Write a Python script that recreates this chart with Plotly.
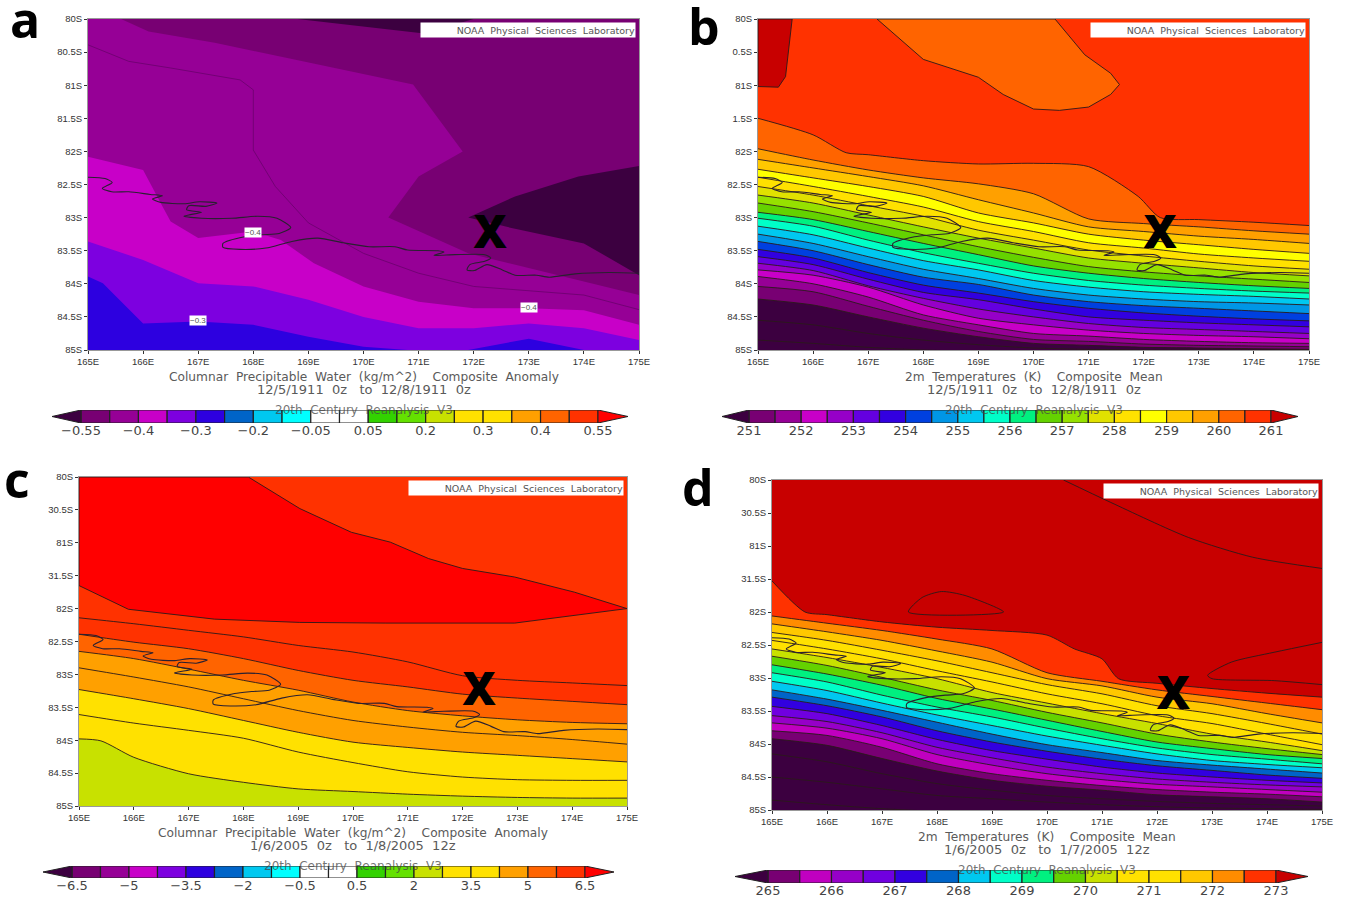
import plotly.graph_objects as go

W, H = 1346, 898
LON = [165, 166, 167, 168, 169, 170, 171, 172, 173, 174, 175]
LON_TICKS = [165, 166, 167, 168, 169, 170, 171, 172, 173, 174, 175]
LON_LABELS = ["165E", "166E", "167E", "168E", "169E", "170E", "171E", "172E", "173E", "174E", "175E"]
LAT_TICKS = [80, 80.5, 81, 81.5, 82, 82.5, 83, 83.5, 84, 84.5, 85]
LAT_LABELS_A = ["80S", "80.5S", "81S", "81.5S", "82S", "82.5S", "83S", "83.5S", "84S", "84.5S", "85S"]
LAT_LABELS_B = ["80S", "0.5S", "81S", "1.5S", "82S", "82.5S", "83S", "83.5S", "84S", "84.5S", "85S"]
LAT_LABELS_C = ["80S", "30.5S", "81S", "31.5S", "82S", "82.5S", "83S", "83.5S", "84S", "84.5S", "85S"]

COAST_LON = [165.00, 165.31, 165.44, 165.26, 165.43, 165.74, 166.13, 166.35, 166.17, 166.32, 166.75, 167.02, 167.34, 167.14, 166.83, 166.79, 167.06, 166.83, 166.74, 167.06, 167.61, 168.08, 168.43, 168.68, 168.47, 168.15, 167.84, 167.45, 167.45, 167.76, 168.23, 168.70, 169.17, 169.63, 170.10, 170.57, 170.80, 171.35, 171.46, 171.28, 171.66, 172.20, 172.31, 172.20, 171.93, 171.88, 172.01, 172.24, 172.52, 172.75, 173.14, 173.37, 173.84, 174.46, 175.00]
COAST_LAT = [82.39, 82.41, 82.47, 82.56, 82.61, 82.61, 82.65, 82.67, 82.72, 82.77, 82.79, 82.76, 82.78, 82.83, 82.82, 82.88, 82.92, 82.96, 82.98, 83.01, 83.01, 82.98, 83.01, 83.15, 83.24, 83.26, 83.29, 83.39, 83.45, 83.48, 83.46, 83.36, 83.31, 83.38, 83.44, 83.44, 83.49, 83.50, 83.52, 83.57, 83.56, 83.56, 83.61, 83.66, 83.71, 83.79, 83.80, 83.71, 83.79, 83.87, 83.87, 83.90, 83.85, 83.83, 83.84]
X_LON, X_LAT = 172.30, 83.29

# Panel a
A_BASE = "#2d00e0"
A_C1_LON = [165, 165.27, 166, 167, 168, 169, 170, 170.8, 171.9, 173, 174, 175]
A_C1_LAT = [83.89, 83.99, 84.60, 84.57, 84.62, 84.80, 84.95, 85.0, 85.0, 84.83, 85.0, 85.0]
A_C2_LAT = [83.36, 83.64, 83.99, 84.04, 84.24, 84.50, 84.67, 84.67, 84.60, 84.67, 84.85]
A_C3_LON = [165, 166, 166.35, 166.5, 167, 168, 168.5, 169.1, 170, 171, 172, 173, 174, 175]
A_C3_LAT = [82.08, 82.28, 82.83, 83.06, 83.31, 83.21, 83.34, 83.69, 84.04, 84.27, 84.37, 84.37, 84.40, 84.62]
A_P4_LON = [165.6, 166.1, 167.3, 170.9, 171.8, 171, 170.45, 171.9, 172.7, 174.15, 175, 175, 165.6]
A_P4_LAT = [80, 80.19, 80.36, 80.99, 82.0, 82.38, 83.0, 83.54, 83.70, 84.0, 84.17, 80, 80]
A_P5_LON = [171.9, 172.75, 173.9, 175, 175, 174, 172.6, 171.9]
A_P5_LAT = [83.0, 82.68, 82.38, 82.22, 83.87, 83.39, 83.14, 83.0]
A_P6_LON = [168.8, 171.1, 172, 168.8]
A_P6_LAT = [80, 80.22, 80, 80]
A_THIN_LON = [165, 165.74, 166.5, 167.76, 168, 168, 168.4, 169, 170, 171, 172, 174, 175]
A_THIN_LAT = [80.39, 80.64, 80.74, 80.92, 81.07, 81.98, 82.53, 83.08, 83.54, 83.84, 84.04, 84.17, 84.39]

# Panel b
B_BASE = "#3c0040"
B_COLORS = ["#780073", "#960096", "#c800c8", "#9600c8", "#6400e0", "#3200e0", "#0040e0", "#0096e6", "#00c8f0", "#00ffc8", "#00f080", "#64d200", "#96e100", "#e1e100", "#ffe100", "#ffff00", "#ffc800", "#ffa000", "#ff6400"]
B_LATS = [
    [84.23, 84.32, 84.50, 84.67, 84.80, 84.90, 84.93, 84.96, 84.97, 84.98, 84.99],
    [84.04, 84.12, 84.34, 84.55, 84.72, 84.84, 84.87, 84.91, 84.93, 84.94, 84.95],
    [83.89, 84.00, 84.20, 84.47, 84.62, 84.75, 84.79, 84.84, 84.87, 84.89, 84.90],
    [83.79, 83.87, 84.05, 84.32, 84.52, 84.62, 84.70, 84.75, 84.78, 84.80, 84.83],
    [83.69, 83.80, 84.03, 84.22, 84.38, 84.50, 84.60, 84.66, 84.69, 84.72, 84.75],
    [83.59, 83.71, 83.93, 84.13, 84.24, 84.38, 84.50, 84.55, 84.59, 84.62, 84.65],
    [83.48, 83.61, 83.83, 84.02, 84.14, 84.27, 84.37, 84.44, 84.49, 84.53, 84.56],
    [83.36, 83.50, 83.71, 83.90, 84.01, 84.17, 84.27, 84.33, 84.37, 84.41, 84.45],
    [83.25, 83.39, 83.59, 83.78, 83.92, 84.07, 84.17, 84.23, 84.27, 84.29, 84.32],
    [83.13, 83.26, 83.46, 83.65, 83.79, 83.95, 84.05, 84.12, 84.16, 84.19, 84.23],
    [83.01, 83.13, 83.34, 83.53, 83.69, 83.84, 83.95, 84.02, 84.07, 84.11, 84.14],
    [82.92, 83.03, 83.21, 83.39, 83.56, 83.73, 83.84, 83.92, 83.98, 84.03, 84.07],
    [82.78, 82.91, 83.08, 83.26, 83.44, 83.60, 83.74, 83.82, 83.88, 83.93, 83.98],
    [82.66, 82.78, 82.96, 83.14, 83.31, 83.46, 83.61, 83.69, 83.76, 83.83, 83.88],
    [82.53, 82.66, 82.82, 82.98, 83.19, 83.34, 83.49, 83.58, 83.66, 83.73, 83.78],
    [82.39, 82.53, 82.68, 82.84, 83.06, 83.21, 83.38, 83.46, 83.55, 83.61, 83.66],
    [82.27, 82.40, 82.53, 82.68, 82.93, 83.08, 83.25, 83.34, 83.41, 83.48, 83.54],
    [82.12, 82.25, 82.38, 82.52, 82.73, 82.93, 83.14, 83.21, 83.28, 83.33, 83.39],
    [81.96, 82.13, 82.28, 82.40, 82.49, 82.64, 83.02, 83.09, 83.14, 83.20, 83.25],
]
B_TOP_COLOR = "#ff3200"
B_TOP_LON = [165, 166, 166.6, 167, 168, 169, 170, 171, 171.9, 172.3, 173, 174, 175]
B_TOP_LAT = [81.50, 81.75, 82.02, 82.05, 82.14, 82.19, 82.18, 82.23, 82.68, 83.0, 83.03, 83.07, 83.12]
B_BLOB1_LON = [167.16, 168, 169, 169.45, 170, 170.47, 171, 171.4, 171.56, 171.4, 170.93, 170.39, 167.16]
B_BLOB1_LAT = [80, 80.61, 80.88, 81.14, 81.36, 81.38, 81.33, 81.14, 80.99, 80.82, 80.54, 80, 80]
B_BLOB2_LON = [165, 165.62, 165.5, 165.37, 165, 165]
B_BLOB2_LAT = [80, 80, 80.87, 81.03, 81.02, 80]
B_EXTRA = [
    [84.55, 84.62, 84.75, 84.85, 84.92, 84.97, 84.99, 85.0, 85.0, 85.0, 85.0],
    [84.85, 84.90, 84.96, 85.0, 85.02, 85.03, 85.03, 85.03, 85.03, 85.03, 85.03],
]

# Panel c
C_BASE = "#c8e100"
C_COLORS = ["#ffe100", "#ffe100", "#ffa000", "#ffa000", "#ff6400", "#ff3200", "#ff3200"]
C_L7_LON = [165, 165.4, 166, 167, 168, 169, 170, 171, 172, 173, 174, 175]
C_L7_LAT = [83.98, 84.01, 84.26, 84.51, 84.64, 84.74, 84.78, 84.82, 84.85, 84.87, 84.88, 84.88]
C_LATS = [
    [83.61, 83.74, 83.85, 83.97, 84.18, 84.34, 84.48, 84.56, 84.60, 84.61, 84.61],
    [83.23, 83.37, 83.52, 83.70, 83.88, 84.03, 84.11, 84.18, 84.23, 84.28, 84.33],
    [82.90, 83.04, 83.19, 83.37, 83.55, 83.70, 83.80, 83.88, 83.93, 83.99, 84.06],
    [82.65, 82.76, 82.92, 83.09, 83.24, 83.42, 83.55, 83.63, 83.69, 83.73, 83.75],
    [82.39, 82.51, 82.61, 82.76, 82.94, 83.09, 83.19, 83.30, 83.36, 83.41, 83.46],
    [82.14, 82.23, 82.33, 82.43, 82.56, 82.66, 82.81, 83.02, 83.09, 83.13, 83.17],
]
C_RED_COLOR = "#ff0000"
C_RED_LON = [165, 165, 168.09, 169.03, 169.97, 170.68, 171.38, 172.0, 172.95, 174.04, 175, 173.73, 172.95, 170.6, 169.03, 167.47, 165.9, 165]
C_RED_LAT = [81.65, 80, 80.0, 80.48, 80.84, 80.99, 81.24, 81.39, 81.52, 81.75, 82.0, 82.13, 82.22, 82.22, 82.21, 82.16, 82.01, 81.65]

# Panel d
D_BASE = "#3c0040"
D_COLORS = ["#780073", "#c000c0", "#9600c8", "#7000e0", "#3200e0", "#0064c8", "#00c8f0", "#00ffc8", "#00f080", "#64d200", "#c8e100", "#ffe100", "#ffe100", "#ffc800", "#ff8c00", "#ff3200"]
D_LATS = [
    [83.92, 84.02, 84.22, 84.41, 84.55, 84.64, 84.70, 84.77, 84.80, 84.83, 84.88],
    [83.80, 83.87, 84.05, 84.30, 84.45, 84.55, 84.63, 84.69, 84.73, 84.76, 84.80],
    [83.68, 83.76, 83.92, 84.16, 84.32, 84.45, 84.54, 84.61, 84.65, 84.69, 84.73],
    [83.57, 83.66, 83.83, 84.05, 84.21, 84.35, 84.45, 84.53, 84.58, 84.62, 84.65],
    [83.43, 83.54, 83.72, 83.93, 84.10, 84.23, 84.35, 84.44, 84.50, 84.55, 84.59],
    [83.29, 83.42, 83.59, 83.80, 83.97, 84.11, 84.23, 84.33, 84.40, 84.47, 84.52],
    [83.18, 83.32, 83.49, 83.67, 83.85, 84.01, 84.13, 84.25, 84.32, 84.38, 84.44],
    [83.05, 83.19, 83.38, 83.56, 83.72, 83.88, 84.02, 84.15, 84.25, 84.31, 84.36],
    [82.92, 83.06, 83.26, 83.44, 83.59, 83.76, 83.92, 84.06, 84.16, 84.23, 84.30],
    [82.80, 82.94, 83.11, 83.31, 83.47, 83.64, 83.81, 83.97, 84.07, 84.16, 84.22],
    [82.67, 82.81, 82.99, 83.18, 83.34, 83.52, 83.68, 83.85, 83.97, 84.07, 84.16],
    [82.56, 82.69, 82.84, 83.01, 83.22, 83.38, 83.54, 83.69, 83.85, 83.97, 84.10],
    [82.43, 82.56, 82.71, 82.89, 83.06, 83.24, 83.39, 83.57, 83.69, 83.85, 84.01],
    [82.31, 82.43, 82.58, 82.74, 82.92, 83.10, 83.24, 83.42, 83.54, 83.69, 83.85],
    [82.18, 82.30, 82.43, 82.59, 82.76, 83.01, 83.12, 83.29, 83.39, 83.54, 83.68],
    [82.06, 82.17, 82.28, 82.41, 82.56, 82.92, 83.05, 83.18, 83.28, 83.38, 83.48],
]
D_TOP_COLOR = "#c80000"
D_TOP_LON = [165, 165.6, 166, 167, 168, 169, 170, 170.5, 171, 171.3, 172, 173, 174, 175]
D_TOP_LAT = [81.53, 82.00, 82.04, 82.15, 82.23, 82.28, 82.35, 82.56, 82.71, 83.01, 83.08, 83.16, 83.23, 83.29]
D_EXTRA = [
    [84.15, 84.27, 84.45, 84.60, 84.70, 84.78, 84.83, 84.87, 84.90, 84.92, 84.94],
    [84.50, 84.58, 84.68, 84.78, 84.83, 84.88, 84.92, 84.95, 84.97, 84.98, 84.99],
    [84.85, 84.92, 84.98, 85.02, 85.03, 85.03, 85.03, 85.03, 85.03, 85.03, 85.03],
]
D_LINE1_LON = [170.30, 171.16, 172.57, 173.74, 175]
D_LINE1_LAT = [80.0, 80.34, 80.87, 81.17, 81.34]
D_LINE2_LON = [167.48, 167.73, 168.08, 168.51, 169.21, 167.48]
D_LINE2_LAT = [82.0, 81.78, 81.69, 81.75, 82.0, 82.0]
D_LINE3_LON = [175, 174.13, 173.35, 172.92, 173, 174.13, 175]
D_LINE3_LAT = [82.46, 82.61, 82.76, 82.96, 83.01, 83.04, 83.10]

# Colour bars
BAR_ANOM = ["#780073", "#960096", "#c800c8", "#7d00e0", "#2d00e0", "#0064c8", "#00c8f0", "#00ffff", "#ffffff", "#ffffff", "#32d200", "#64e100", "#c8e100", "#ffe100", "#ffe100", "#ffa000", "#ff6400", "#ff3200"]
BAR_B = B_COLORS + ["#ff3200"]
BAR_D = D_COLORS
BAR_A_LABELS = ["−0.55", "−0.4", "−0.3", "−0.2", "−0.05", "0.05", "0.2", "0.3", "0.4", "0.55"]
BAR_B_LABELS = ["251", "252", "253", "254", "255", "256", "257", "258", "259", "260", "261"]
BAR_C_LABELS = ["−6.5", "−5", "−3.5", "−2", "−0.5", "0.5", "2", "3.5", "5", "6.5"]
BAR_D_LABELS = ["265", "266", "267", "268", "269", "270", "271", "272", "273"]

TITLE_A = "Columnar  Precipitable  Water  (kg/m^2)    Composite  Anomaly"
TITLE_B = "2m  Temperatures  (K)    Composite  Mean"
DATES_AB = "12/5/1911  0z   to  12/8/1911  0z"
DATES_C = "1/6/2005  0z   to  1/8/2005  12z"
DATES_D = "1/6/2005  0z   to  1/7/2005  12z"
SOURCE = "20th  Century  Reanalysis  V3"
NOAA = "NOAA  Physical  Sciences  Laboratory"

GREY = "#5a5a5a"
LINE = "#2a1a1a"
fig = go.Figure()


def px(v):
    return v / W


def py(v):
    return 1 - v / H


def fill_up(ax, lons, lats, color, spline=True, lw=0.9):
    shape = "spline" if spline else "linear"
    fig.add_trace(go.Scatter(x=lons, y=lats, mode="lines", fill="tozeroy", fillcolor=color,
                             line=dict(color=LINE if lw else color, width=lw, shape=shape, smoothing=0.7),
                             xaxis=f"x{ax}", yaxis=f"y{ax}", hoverinfo="skip"))


def poly(ax, lons, lats, color, lw=0.9, spline=False):
    fig.add_trace(go.Scatter(x=lons, y=lats, mode="lines", fill="toself", fillcolor=color,
                             line=dict(color=LINE if lw else color, width=lw,
                                       shape="spline" if spline else "linear", smoothing=0.6),
                             xaxis=f"x{ax}", yaxis=f"y{ax}", hoverinfo="skip"))


def line(ax, lons, lats, color=LINE, lw=0.9, spline=True):
    fig.add_trace(go.Scatter(x=lons, y=lats, mode="lines",
                             line=dict(color=color, width=lw, shape="spline" if spline else "linear", smoothing=0.7),
                             xaxis=f"x{ax}", yaxis=f"y{ax}", hoverinfo="skip"))


def overlays(ax):
    line(ax, COAST_LON, COAST_LAT, color="#2a2030", lw=1.1, spline=True)
    fig.add_trace(go.Scatter(x=[X_LON], y=[X_LAT], mode="text", text=["X"],
                             textfont=dict(family="Open Sans", size=46, color="black", weight=800),
                             xaxis=f"x{ax}", yaxis=f"y{ax}", hoverinfo="skip"))


# a
fill_up(1, A_C1_LON, A_C1_LAT, "#7d00e0", spline=False, lw=0)
fill_up(1, LON, A_C2_LAT, "#c800c8", spline=False, lw=0)
fill_up(1, A_C3_LON, A_C3_LAT, "#960096", spline=False, lw=0)
poly(1, A_P4_LON, A_P4_LAT, "#780073", lw=0)
poly(1, A_P5_LON, A_P5_LAT, "#3c0040", lw=0)
poly(1, A_P6_LON, A_P6_LAT, "#3c0040", lw=0)
line(1, A_THIN_LON, A_THIN_LAT, color="#5c0060", lw=0.6, spline=False)
overlays(1)

# b
for lats, color in zip(B_LATS, B_COLORS):
    fill_up(2, LON, lats, color)
fill_up(2, B_TOP_LON, B_TOP_LAT, B_TOP_COLOR)
poly(2, B_BLOB1_LON, B_BLOB1_LAT, "#ff6400")
poly(2, B_BLOB2_LON, B_BLOB2_LAT, "#c80000")
for lats in B_EXTRA:
    line(2, LON, lats)
overlays(2)

# c
fill_up(3, C_L7_LON, C_L7_LAT, C_COLORS[0])
for lats, color in zip(C_LATS, C_COLORS[1:]):
    fill_up(3, LON, lats, color)
poly(3, C_RED_LON, C_RED_LAT, C_RED_COLOR)
overlays(3)

# d
for lats, color in zip(D_LATS, D_COLORS):
    fill_up(4, LON, lats, color)
fill_up(4, D_TOP_LON, D_TOP_LAT, D_TOP_COLOR)
for lats in D_EXTRA:
    line(4, LON, lats)
line(4, D_LINE1_LON, D_LINE1_LAT)
line(4, D_LINE2_LON, D_LINE2_LAT)
line(4, D_LINE3_LON, D_LINE3_LAT)
overlays(4)

PANELS = [
    dict(n=1, rect=(88, 639, 19, 350), bg=A_BASE, lat=LAT_LABELS_A, letter="a", lxy=(25, 19),
         t1=TITLE_A, t2=DATES_AB, bar=(52, 81, 598, 628, 410, 423), colors=BAR_ANOM, tick=BAR_A_LABELS,
         left="#3c0040", right="#ff0000"),
    dict(n=2, rect=(758, 1309, 19, 350), bg=B_BASE, lat=LAT_LABELS_B, letter="b", lxy=(704, 26),
         t1=TITLE_B, t2=DATES_AB, bar=(722, 749, 1271, 1298, 410, 423), colors=BAR_B, tick=BAR_B_LABELS,
         left="#3c0040", right="#c80000"),
    dict(n=3, rect=(79, 627, 477, 806), bg=C_BASE, lat=LAT_LABELS_C, letter="c", lxy=(17, 479),
         t1=TITLE_A, t2=DATES_C, bar=(43, 72, 585, 614, 866, 878), colors=BAR_ANOM, tick=BAR_C_LABELS,
         left="#3c0040", right="#ff0000"),
    dict(n=4, rect=(772, 1322, 480, 810), bg=D_BASE, lat=LAT_LABELS_C, letter="d", lxy=(698, 487),
         t1=TITLE_B, t2=DATES_D, bar=(735, 768, 1276, 1308, 870, 883), colors=BAR_D, tick=BAR_D_LABELS,
         left="#3c0040", right="#c80000"),
]

layout = dict(width=W, height=H, margin=dict(l=0, r=0, t=0, b=0), showlegend=False, template="none",
              paper_bgcolor="white", plot_bgcolor="white", barmode="overlay", autosize=False)
shapes, annos = [], []
tick_font = dict(family="Liberation Sans", size=9.5, color="#333333")
for p in PANELS:
    n = p["n"]
    x0, x1, y0, y1 = p["rect"]
    sfx = "" if n == 1 else str(n)
    layout[f"xaxis{sfx}"] = dict(domain=[px(x0), px(x1)], range=[165, 175], tickvals=LON_TICKS, ticktext=LON_LABELS,
                                 ticks="outside", ticklen=3, tickcolor="#333", tickfont=tick_font, showgrid=False,
                                 zeroline=False, showline=True, linecolor="#999", linewidth=1, anchor=f"y{sfx}",
                                 mirror=True, tickangle=0, automargin=False)
    layout[f"yaxis{sfx}"] = dict(domain=[py(y1), py(y0)], range=[85, 80], tickvals=LAT_TICKS, ticktext=p["lat"],
                                 ticks="outside", ticklen=3, tickcolor="#333", tickfont=tick_font, showgrid=False,
                                 zeroline=False, showline=True, linecolor="#999", linewidth=1, anchor=f"x{sfx}",
                                 mirror=True, automargin=False)
    shapes.append(dict(type="rect", xref=f"x{sfx} domain", yref=f"y{sfx} domain", x0=0, x1=1, y0=0, y1=1,
                       fillcolor=p["bg"], line=dict(width=0), layer="below"))
    cx = (x0 + x1) / 2
    annos.append(dict(x=px(cx), y=py(y1 + 27), xref="paper", yref="paper", text=p["t1"], showarrow=False,
                      xanchor="center", yanchor="middle", font=dict(family="DejaVu Sans", size=12.2, color=GREY)))
    annos.append(dict(x=px(cx), y=py(y1 + 39), xref="paper", yref="paper", text=p["t2"], showarrow=False,
                      xanchor="center", yanchor="middle", font=dict(family="DejaVu Sans", size=13, color=GREY)))
    annos.append(dict(x=px(cx), y=py(p["bar"][4]), xref="paper", yref="paper", text=SOURCE, showarrow=False,
                      xanchor="center", yanchor="middle", font=dict(family="DejaVu Sans", size=12, color="rgba(70,70,70,0.75)")))
    annos.append(dict(x=px(p["lxy"][0]), y=py(p["lxy"][1]), xref="paper", yref="paper", text=f"<b>{p['letter']}</b>",
                      showarrow=False, xanchor="center", yanchor="middle", font=dict(family="Open Sans", size=50, color="black")))
    annos.append(dict(x=px(x1 - 3), y=py(y0 + 3), xref="paper", yref="paper", xanchor="right", yanchor="top",
                      text=NOAA, showarrow=False, bgcolor="white", width=214, height=14, align="right",
                      font=dict(family="DejaVu Sans", size=9.5, color="#555555"), borderpad=0))

    # colour bar on its own axes
    m = n + 4
    tip0, bx0, bx1, tip1, by0, by1 = p["bar"]
    colors = p["colors"]
    nb = len(colors)
    unit = (bx1 - bx0) / nb
    lo, hi = -(bx0 - tip0) / unit, nb + (tip1 - bx1) / unit
    fig.add_trace(go.Bar(x=[i + 0.5 for i in range(nb)], y=[1] * nb, width=1, marker=dict(color=colors, line=dict(color="#222", width=1.2)),
                         xaxis=f"x{m}", yaxis=f"y{m}", hoverinfo="skip"))
    fig.add_trace(go.Scatter(x=[0, lo, 0, 0], y=[0, 0.5, 1, 0], mode="lines", fill="toself", fillcolor=p["left"],
                             line=dict(color="#222", width=1), xaxis=f"x{m}", yaxis=f"y{m}", hoverinfo="skip"))
    fig.add_trace(go.Scatter(x=[nb, hi, nb, nb], y=[0, 0.5, 1, 0], mode="lines", fill="toself", fillcolor=p["right"],
                             line=dict(color="#222", width=1), xaxis=f"x{m}", yaxis=f"y{m}", hoverinfo="skip"))
    layout[f"xaxis{m}"] = dict(domain=[px(tip0), px(tip1)], range=[lo, hi], tickvals=[i * 2 for i in range(len(p["tick"]))],
                               ticktext=p["tick"], ticks="", tickfont=dict(family="DejaVu Sans", size=13, color="#444"),
                               showgrid=False, zeroline=False, showline=False, anchor="free", position=py(by1 - 2),
                               tickangle=0, automargin=False)
    layout[f"yaxis{m}"] = dict(domain=[py(by1), py(by0)], range=[0, 1], visible=False, anchor=f"x{m}", automargin=False)

# contour value labels in panel a
for lon, lat, txt in [(168, 83.22, "−0.4"), (173, 84.36, "−0.4"), (167, 84.56, "−0.3")]:
    annos.append(dict(x=lon, y=lat, xref="x", yref="y", text=txt, showarrow=False, bgcolor="white",
                      font=dict(family="Liberation Sans", size=8, color="#555"), borderpad=0))

layout["shapes"] = shapes
layout["annotations"] = annos
fig.update_layout(**layout)
fig.write_html("out.html", config={"displayModeBar": False},
               post_script="document.body.style.margin='0';document.documentElement.style.overflow='hidden';")
